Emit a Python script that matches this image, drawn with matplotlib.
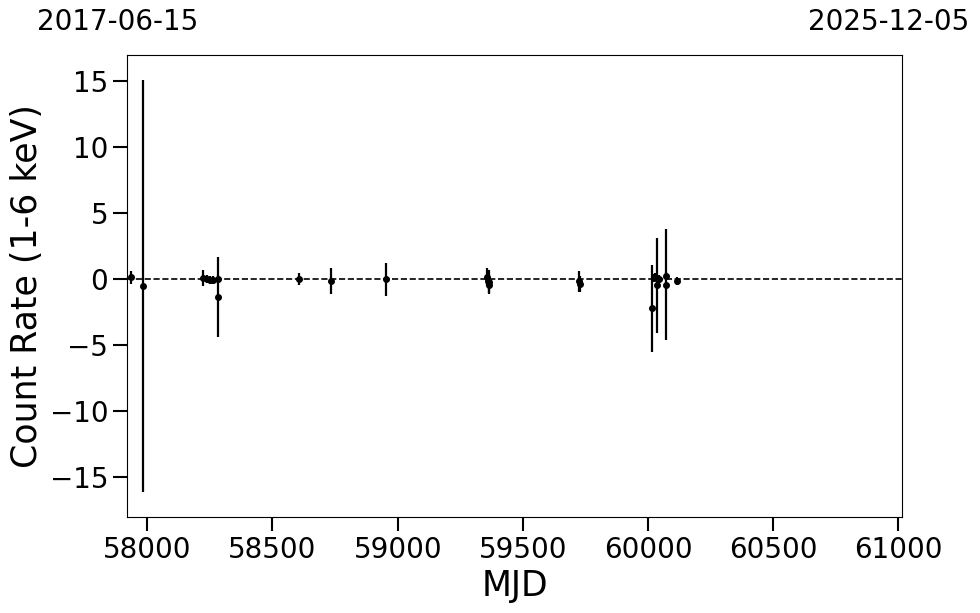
import numpy as np
import matplotlib.pyplot as plt

# light curve points
mjd = [57936, 57984, 58221, 58237, 58251, 58261, 58283, 58283,
       58607, 58735, 58954,
       59357, 59360, 59363, 59365,
       59723, 59728,
       60017, 60024, 60028, 60037, 60044, 60071, 60073, 60117]
rate = [0.15, -0.5, 0.1, 0.0, -0.05, -0.05, 0.05, -1.35,
        0.0, -0.1, 0.0,
        0.2, -0.1, -0.4, -0.2,
        -0.15, -0.35,
        -2.2, 0.1, 0.2, -0.45, 0.0, 0.25, -0.4, -0.1]
err = [0.5, 15.6, 0.6, 0.3, 0.3, 0.3, 0.3, 3.05,
       0.45, 0.97, 1.25,
       0.7, 0.5, 0.6, 0.9,
       0.8, 0.6,
       3.3, 0.3, 0.3, 3.6, 0.3, 0.3, 4.2, 0.3]

x_lim = (57919, 61014)
date_start = "2017-06-15"
date_end = "2025-12-05"

fig = plt.figure(figsize=(9.8, 6.13), dpi=100)
ax = fig.add_axes([0.1296, 0.1566, 0.7908, 0.7537])

ax.errorbar(mjd, rate, yerr=err, fmt='o', color='k', ms=4, elinewidth=1.6, capsize=0)
ax.axhline(0, color='k', ls='--', lw=1.2)

ax.set_xlim(x_lim)
ax.set_ylim(-18, 17)
ax.set_yticks([-15, -10, -5, 0, 5, 10, 15])
ax.set_xticks([58000, 58500, 59000, 59500, 60000, 60500, 61000])
ax.tick_params(length=10, width=1.5, labelsize=20)

ax.set_xlabel('MJD', fontsize=25)
ax.set_ylabel('Count Rate (1-6 keV)', fontsize=25)

fig.text(118 / 980, 1 - 22 / 613, date_start, ha='center', va='center', fontsize=20)
fig.text(889 / 980, 1 - 22 / 613, date_end, ha='center', va='center', fontsize=20)

plt.savefig('out.png', dpi=100)
